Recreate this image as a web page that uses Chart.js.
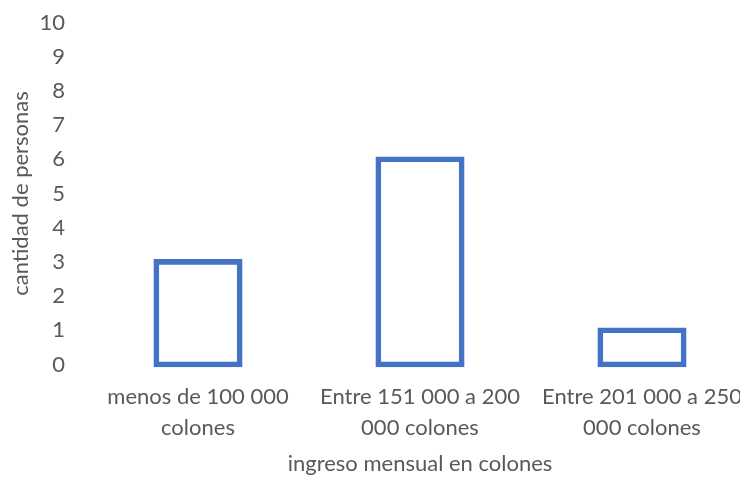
<!DOCTYPE html>
<html>
<head>
<meta charset="utf-8">
<script src="https://cdn.jsdelivr.net/npm/chart.js@4"></script>
<style>
  html, body { margin: 0; padding: 0; background: #fff; overflow: hidden; }
  #wrap { width: 760px; height: 477px; }
</style>
</head>
<body>
<div id="wrap"><canvas id="chart" width="760" height="477"></canvas></div>
<script>
// data
const categories = [
  ['menos de 100 000', 'colones'],
  ['Entre 151 000 a 200', '000 colones'],
  ['Entre 201 000 a 250', '000 colones'],
]
const personas = [3, 6, 1]
const yTicks = [0, 1, 2, 3, 4, 5, 6, 7, 8, 9, 10]

const gray = '#595959'
const blue = '#4472C4'
const font = { family: 'Lato, "Open Sans", sans-serif', size: 22, lineHeight: 1.4 }

Chart.defaults.font = font
Chart.defaults.color = gray

new Chart(document.getElementById('chart'), {
  type: 'bar',
  data: {
    labels: categories,
    datasets: [
      {
        data: personas,
        backgroundColor: '#fff',
        borderColor: blue,
        borderWidth: 5.6,
        borderSkipped: false,
        inflateAmount: 2.8,
        categoryPercentage: 1,
        barPercentage: 0.376,
        clip: false,
      },
    ],
  },
  options: {
    responsive: false,
    animation: false,
    layout: { padding: { top: 22.5, right: 7, left: 0, bottom: 0 } },
    plugins: { legend: { display: false }, tooltip: { enabled: false } },
    scales: {
      x: {
        offset: true,
        grid: { display: false, drawTicks: false },
        border: { display: false },
        ticks: { padding: 17, maxRotation: 0, autoSkip: false, color: gray },
        title: {
          display: true,
          text: 'ingreso mensual en colones',
          color: gray,
          font: { size: 22, lineHeight: 1.2 },
          padding: { top: 0, bottom: 0 },
        },
        afterFit: (scale) => {
          scale.height = 112.5
          scale.paddingLeft = 0
          scale.paddingRight = 0
        },
      },
      y: {
        min: yTicks[0],
        max: yTicks[yTicks.length - 1],
        grid: { display: false, drawTicks: false },
        border: { display: false },
        afterBuildTicks: (scale) => {
          scale.ticks = yTicks.map((v) => ({ value: v }))
        },
        ticks: { padding: 22, autoSkip: false, color: gray },
        title: {
          display: true,
          text: 'cantidad de personas',
          color: gray,
          font: { size: 22, lineHeight: 1.2 },
          padding: { top: 8, bottom: 0 },
        },
        afterFit: (scale) => {
          scale.width = 87
          scale.paddingTop = 0
          scale.paddingBottom = 0
        },
      },
    },
  },
})
</script>
</body>
</html>
